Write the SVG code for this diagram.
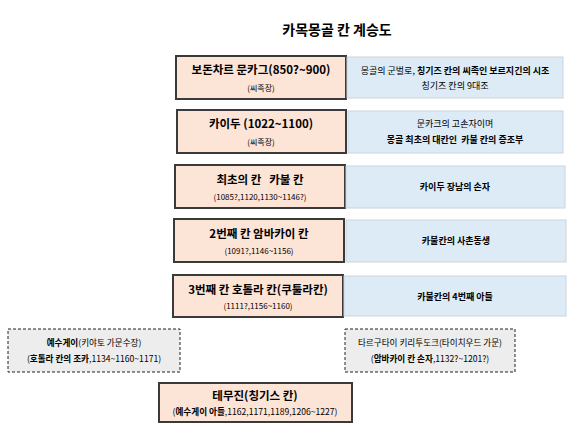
<svg xmlns="http://www.w3.org/2000/svg" width="580" height="434" viewBox="0 0 580 434">
<style>
text{font-family:"Noto Sans CJK KR","Noto Sans",sans-serif;text-anchor:middle;fill:#000;white-space:pre}
.t{font-size:14px;font-weight:bold}
.m{font-size:11.5px;font-weight:bold}
.s{font-size:8px}
.r{font-size:9px}
.q{font-size:8.6px}
.b{font-weight:bold}
.k{fill:#FCE4D6;stroke:#3a3a3a;stroke-width:2}
.d{fill:#DDEBF7;stroke:#C9D3DD;stroke-width:1}
.g{fill:#EDEDED;stroke:#222;stroke-width:1;stroke-dasharray:3,2}
</style>
<rect width="580" height="434" fill="#fff"/>
<text class="t" x="337" y="35">카목몽골 칸 계승도</text>
<g id="n1">
<rect class="k" x="176" y="56" width="170" height="43"/>
<text class="m" x="261" y="74">보돈차르 문카그(850?~900)</text>
<text class="s" x="261" y="91">(씨족장)</text>
</g>
<g id="d1">
<rect class="d" x="347" y="57" width="216" height="41"/>
<text class="r" x="455" y="74">몽골의 군벌로, <tspan class="b">칭기즈 칸의 씨족인 보르지긴의 시조</tspan></text>
<text class="r" x="455" y="89">칭기즈 칸의 9대조</text>
</g>
<g id="n2">
<rect class="k" x="177" y="110" width="169" height="43"/>
<text class="m" x="261" y="128">카이두 (1022~1100)</text>
<text class="s" x="261" y="145">(씨족장)</text>
</g>
<g id="d2">
<rect class="d" x="348" y="111" width="215" height="42"/>
<text class="r" x="455" y="127">문카크의 고손자이며</text>
<text class="r b" x="455" y="143">몽골 최초의 대칸인  카불 칸의 증조부</text>
</g>
<g id="n3">
<rect class="k" x="175" y="165" width="170" height="43"/>
<text class="m" x="260" y="184">최초의 칸   카불 칸</text>
<text class="s" x="260" y="200">(1085?,1120,1130~1146?)</text>
</g>
<g id="d3">
<rect class="d" x="346" y="166" width="219" height="42"/>
<text class="r b" x="455" y="190">카이두 장남의 손자</text>
</g>
<g id="n4">
<rect class="k" x="174" y="219" width="170" height="43"/>
<text class="m" x="259" y="238">2번째 칸 암바카이 칸</text>
<text class="s" x="259" y="254">(1091?,1146~1156)</text>
</g>
<g id="d4">
<rect class="d" x="346" y="220" width="220" height="42"/>
<text class="r b" x="456" y="244">카불칸의 사촌동생</text>
</g>
<g id="n5">
<rect class="k" x="173" y="275" width="170" height="42"/>
<text class="m" x="258" y="294">3번째 칸 호톨라 칸(쿠툴라칸)</text>
<text class="s" x="258" y="309">(1111?,1156~1160)</text>
</g>
<g id="d5">
<rect class="d" x="344" y="276" width="222" height="40"/>
<text class="r b" x="455" y="300">카불칸의 4번째 아들</text>
</g>
<g id="n6">
<rect class="g" x="8" y="329" width="172" height="43"/>
<text class="q" x="94" y="346"><tspan class="b">예수게이</tspan>(키야토 가문수장)</text>
<text class="q" x="94" y="362">(<tspan class="b">호톨라 칸의 조카</tspan>,1134~1160~1171)</text>
</g>
<g id="n7">
<rect class="g" x="345" y="329" width="170" height="43"/>
<text class="q" x="430" y="346">타르구타이 키리투도크(타이치우드 가문)</text>
<text class="q" x="430" y="362">(<tspan class="b">암바카이 칸 손자</tspan>,1132?~1201?)</text>
</g>
<g id="n8">
<rect class="k" x="159" y="383" width="193" height="39"/>
<text class="m" x="255" y="400">테무진(칭기스 칸)</text>
<text class="q" x="255" y="415">(<tspan class="b">예수게이 아들</tspan>,1162,1171,1189,1206~1227)</text>
</g>
<g id="connectors"></g>
</svg>
